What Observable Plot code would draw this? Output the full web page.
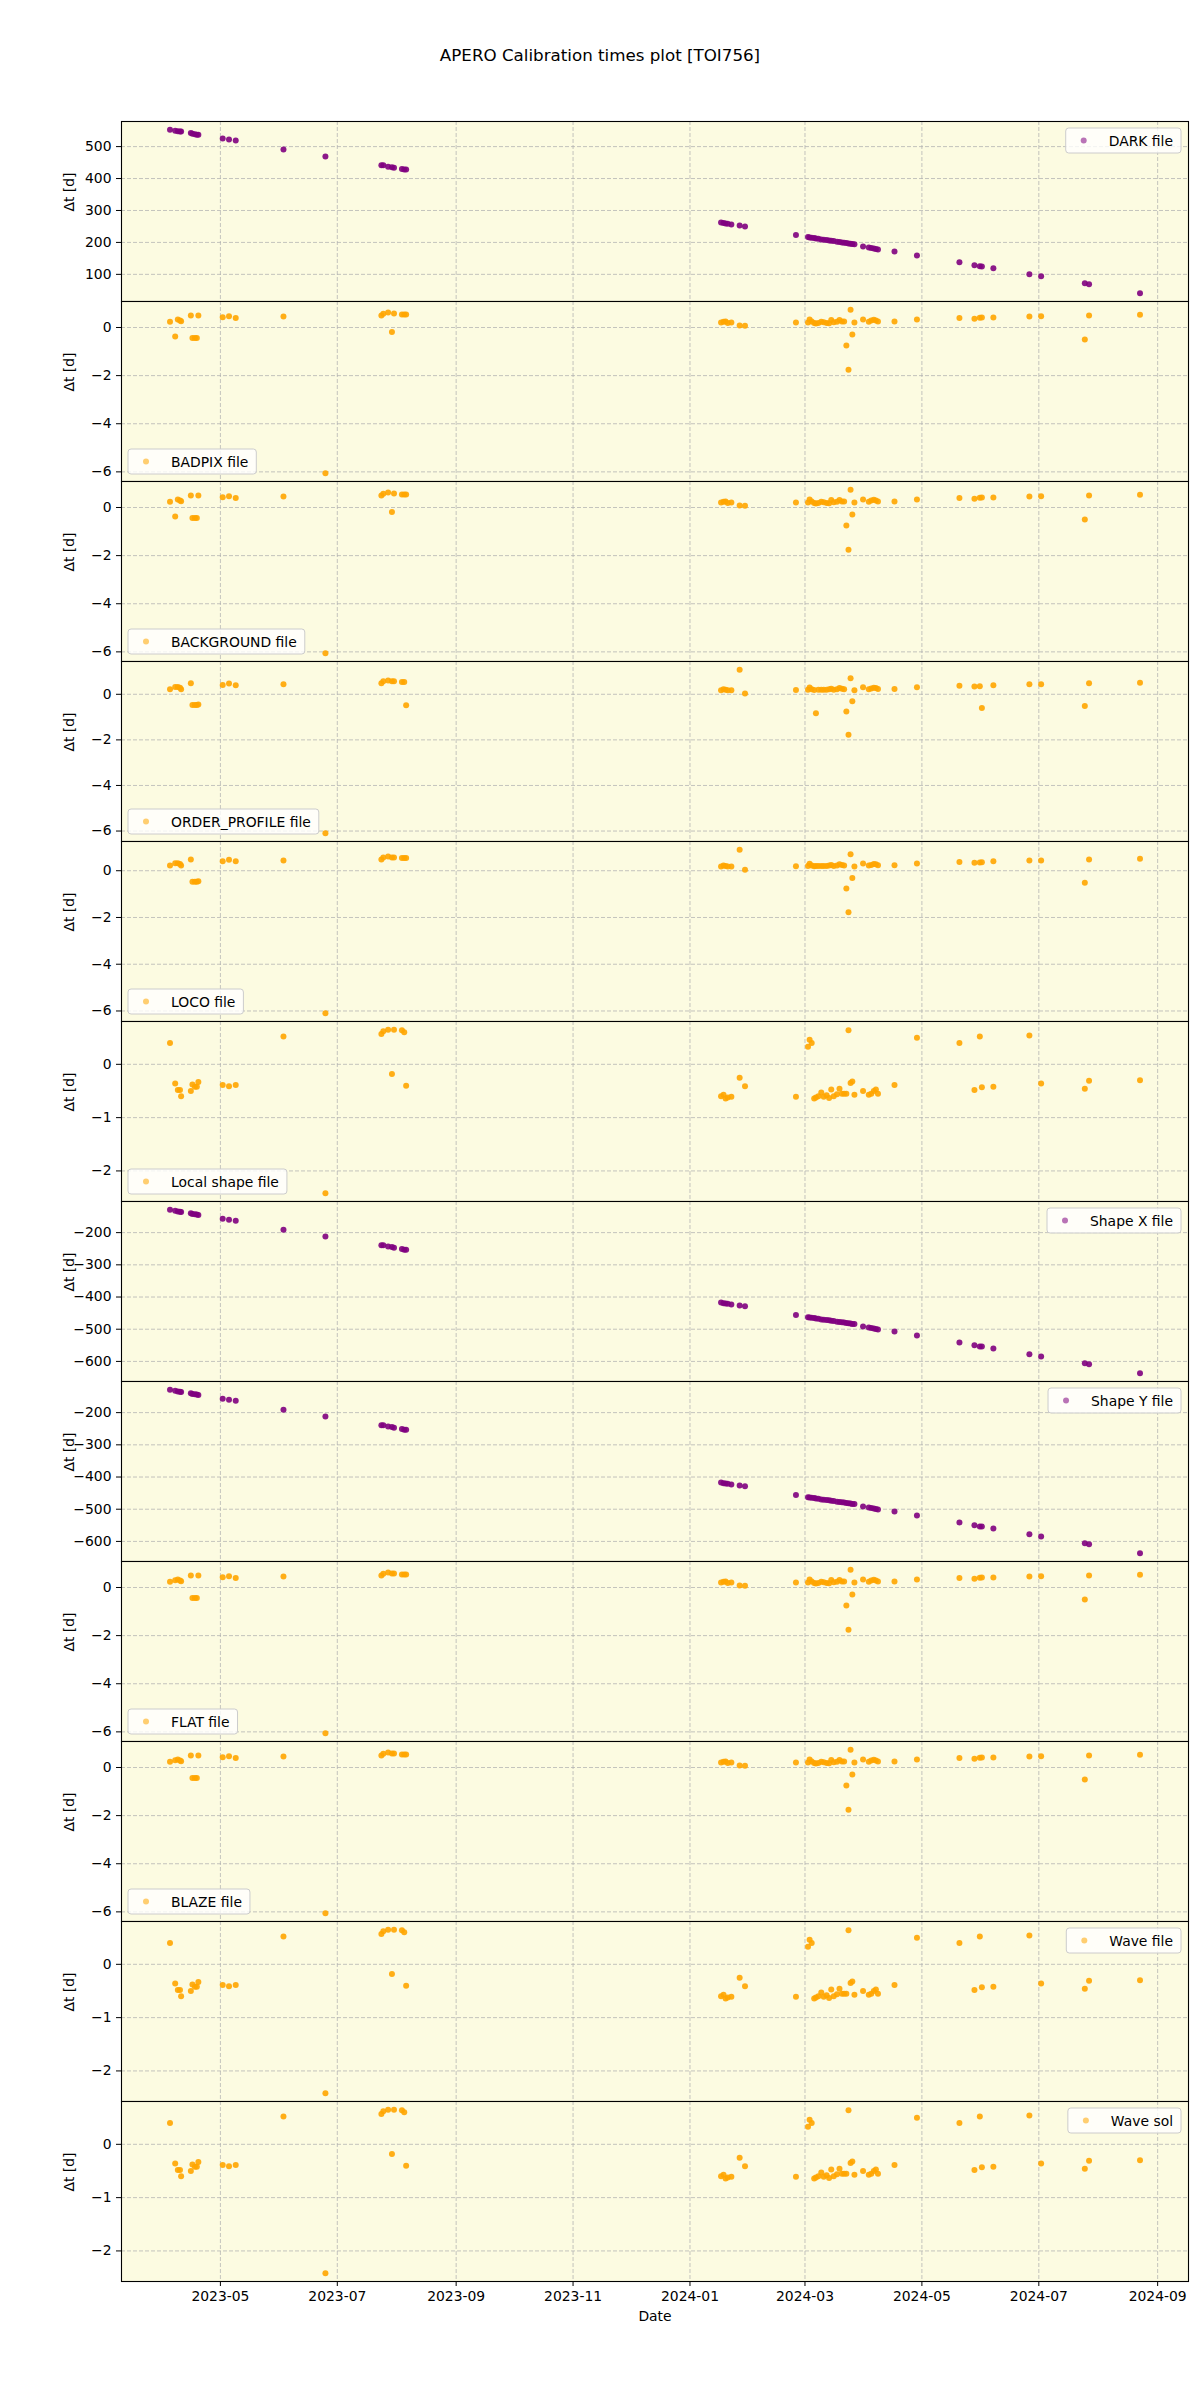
<!DOCTYPE html>
<html><head><meta charset="utf-8">
<script src="https://cdn.jsdelivr.net/npm/d3@7"></script>
<script src="https://cdn.jsdelivr.net/npm/@observablehq/plot@0.6"></script>
<style>
body{margin:0;background:#fff;font-family:"DejaVu Sans",sans-serif;}
#title{height:121px;position:relative;width:1200px}
#title div{position:absolute;top:45px;left:0;width:1200px;text-align:center;font-size:16.7px;line-height:20px;color:#000}
svg{display:block;overflow:visible}
</style></head><body>
<div id="title"><div>APERO Calibration times plot [TOI756]</div></div>
<div id="chart"></div>
<script>
// observation dates (UTC, to the hour)
const obsDates = [
"2023-04-04T17","2023-04-07T10","2023-04-08T19","2023-04-09T22","2023-04-10T12","2023-04-15T14","2023-04-16T10","2023-04-17T17","2023-04-18T17","2023-04-19T12",
"2023-05-02T05","2023-05-05T12","2023-05-09T00","2023-06-02T22","2023-06-24T19","2023-07-24T00","2023-07-25T00","2023-07-27T12","2023-07-29T12","2023-07-30T14",
"2023-08-03T17","2023-08-04T22","2023-08-05T22",
"2024-01-17T05","2024-01-18T12","2024-01-19T14","2024-01-20T17","2024-01-22T14","2024-01-26T22","2024-01-29T17","2024-02-25T07",
"2024-03-02T14","2024-03-03T10","2024-03-04T12","2024-03-05T19","2024-03-06T17","2024-03-08T00","2024-03-09T12","2024-03-10T19","2024-03-12T07","2024-03-13T14",
"2024-03-14T17","2024-03-16T00","2024-03-17T17","2024-03-19T00","2024-03-20T07","2024-03-21T10","2024-03-22T14","2024-03-23T17","2024-03-24T19","2024-03-25T17","2024-03-26T19",
"2024-03-31T07","2024-04-03T07","2024-04-04T14","2024-04-05T22","2024-04-07T00","2024-04-08T02","2024-04-16T17","2024-04-28T10","2024-05-20T14","2024-05-28T10",
"2024-05-31T05","2024-06-01T07","2024-06-07T07","2024-06-26T02","2024-07-02T05","2024-07-25T00","2024-07-27T05","2024-08-22T19"];

const darkFile = [553,550,548,547,547,543,540,539,537,537,525,522,519,491,469,442,442,437,435,434,430,428,428,
262.5,260.4,259.4,258.3,256.3,253.1,250,222.9,
216.7,215.6,214.6,213.5,212.5,211.5,209.4,208.3,207.3,206.3,205.2,204.2,202.1,201.0,200.0,199.0,197.9,196.9,195.8,194.8,194.5,
187.5,184.4,182.3,181.3,179.2,178.1,171.9,159.4,137.5,128.1,125,124.5,118.8,100,93.8,71.9,68.8,40.6];

const badpixFile = [0.24,-0.375,0.33,0.29,0.26,0.5,-0.44,-0.44,-0.44,0.5,0.43,0.47,0.39,0.46,-6.06,0.5,0.57,0.625,-0.19,0.58,0.54,0.54,0.54,
0.21,0.24,0.25,0.19,0.21,0.08,0.07,0.21,
0.21,0.33,0.25,0.19,0.17,0.19,0.24,0.22,0.19,0.18,0.31,0.22,0.24,0.31,0.25,0.25,-0.75,-1.76,0.74,-0.29,0.21,
0.33,0.24,0.29,0.32,0.29,0.25,0.25,0.33,0.39,0.36,0.4,0.42,0.42,0.46,0.47,-0.5,0.5,0.53];

const backgroundFile = [0.24,-0.375,0.33,0.29,0.26,0.5,-0.44,-0.44,-0.44,0.5,0.43,0.47,0.39,0.46,-6.06,0.5,0.57,0.625,-0.19,0.58,0.54,0.54,0.54,
0.21,0.24,0.25,0.19,0.21,0.08,0.07,0.21,
0.21,0.33,0.25,0.19,0.17,0.19,0.24,0.22,0.19,0.18,0.31,0.22,0.24,0.31,0.25,0.25,-0.75,-1.76,0.74,-0.29,0.21,
0.33,0.24,0.29,0.32,0.29,0.25,0.25,0.33,0.39,0.36,0.4,0.42,0.42,0.46,0.47,-0.5,0.5,0.53];

const orderProfileFile = [0.22,0.32,0.32,0.29,0.22,0.48,-0.47,-0.47,-0.47,-0.45,0.41,0.47,0.40,0.44,-6.1,0.48,0.57,0.61,0.57,0.57,0.54,0.54,-0.48,
0.18,0.22,0.2,0.18,0.18,1.08,0.04,0.19,
0.2,0.3,0.22,0.19,-0.83,0.2,0.2,0.2,0.2,0.22,0.24,0.2,0.22,0.28,0.24,0.22,-0.76,-1.78,0.7,-0.31,0.18,
0.31,0.22,0.25,0.29,0.28,0.23,0.23,0.31,0.37,0.34,0.35,-0.6,0.4,0.44,0.44,-0.51,0.48,0.51];

const locoFile = [0.22,0.32,0.32,0.29,0.22,0.48,-0.47,-0.47,-0.47,-0.45,0.41,0.47,0.40,0.44,-6.1,0.48,0.57,0.61,0.57,0.57,0.54,0.54,0.54,
0.18,0.22,0.2,0.18,0.18,0.9,0.04,0.19,
0.2,0.3,0.22,0.19,0.2,0.2,0.2,0.2,0.2,0.22,0.24,0.2,0.22,0.28,0.24,0.22,-0.76,-1.78,0.7,-0.31,0.18,
0.31,0.22,0.25,0.29,0.28,0.23,0.23,0.31,0.37,0.34,0.35,0.36,0.4,0.44,0.44,-0.51,0.48,0.51];

const localShapeFile = [0.40,-0.36,-0.48,-0.48,-0.6,-0.5,-0.38,-0.42,-0.42,-0.33,-0.39,-0.41,-0.39,0.52,-2.42,0.57,0.62,0.65,-0.18,0.65,0.64,0.6,-0.4,
-0.6,-0.57,-0.64,-0.62,-0.61,-0.25,-0.41,-0.61,
0.33,0.46,0.40,-0.64,-0.62,-0.6,-0.53,-0.61,-0.58,-0.63,-0.47,-0.6,-0.56,-0.46,-0.55,-0.55,-0.55,0.64,-0.35,-0.32,-0.57,
-0.5,-0.57,-0.55,-0.5,-0.47,-0.55,-0.39,0.5,0.4,-0.48,0.52,-0.43,-0.42,0.54,-0.36,-0.46,-0.31,-0.3];

const shapeXFile = [-128.7,-132,-134,-135,-136,-140,-142,-143,-144,-145,-157,-160,-163,-191,-212,-239,-239,-243,-245,-247,-251,-253,-253,
-417,-419,-420,-421,-423,-426,-429,-456,
-462.5,-463.5,-464.5,-465.5,-466.5,-467.5,-469.5,-470.5,-471.5,-472.5,-473.5,-474.5,-476.5,-477.5,-478.5,-479.5,-480.5,-481.5,-482.5,-483.5,-484,
-491.5,-494.6,-496.6,-497.7,-499.7,-500.8,-507,-519.4,-541,-550,-553.5,-554,-559.7,-578,-584.5,-606,-609,-637];

const shapeYFile = [-128.7,-132,-134,-135,-136,-140,-142,-143,-144,-145,-157,-160,-163,-191,-212,-239,-239,-243,-245,-247,-251,-253,-253,
-417,-419,-420,-421,-423,-426,-429,-456,
-462.5,-463.5,-464.5,-465.5,-466.5,-467.5,-469.5,-470.5,-471.5,-472.5,-473.5,-474.5,-476.5,-477.5,-478.5,-479.5,-480.5,-481.5,-482.5,-483.5,-484,
-491.5,-494.6,-496.6,-497.7,-499.7,-500.8,-507,-519.4,-541,-550,-553.5,-554,-559.7,-578,-584.5,-606,-609,-637];

const flatFile = [0.24,0.3,0.33,0.29,0.26,0.5,-0.44,-0.44,-0.44,0.5,0.43,0.47,0.39,0.46,-6.06,0.5,0.57,0.625,0.58,0.58,0.54,0.54,0.54,
0.21,0.24,0.25,0.19,0.21,0.08,0.07,0.21,
0.21,0.33,0.25,0.19,0.17,0.19,0.24,0.22,0.19,0.18,0.31,0.22,0.24,0.31,0.25,0.25,-0.75,-1.76,0.74,-0.29,0.21,
0.33,0.24,0.29,0.32,0.29,0.25,0.25,0.33,0.39,0.36,0.4,0.42,0.42,0.46,0.47,-0.5,0.5,0.53];

const blazeFile = [0.24,0.3,0.33,0.29,0.26,0.5,-0.44,-0.44,-0.44,0.5,0.43,0.47,0.39,0.46,-6.06,0.5,0.57,0.625,0.58,0.58,0.54,0.54,0.54,
0.21,0.24,0.25,0.19,0.21,0.08,0.07,0.21,
0.21,0.33,0.25,0.19,0.17,0.19,0.24,0.22,0.19,0.18,0.31,0.22,0.24,0.31,0.25,0.25,-0.75,-1.76,0.74,-0.29,0.21,
0.33,0.24,0.29,0.32,0.29,0.25,0.25,0.33,0.39,0.36,0.4,0.42,0.42,0.46,0.47,-0.5,0.5,0.53];

const waveFile = [0.40,-0.36,-0.48,-0.48,-0.6,-0.5,-0.38,-0.42,-0.42,-0.33,-0.39,-0.41,-0.39,0.52,-2.42,0.57,0.62,0.65,-0.18,0.65,0.64,0.6,-0.4,
-0.6,-0.57,-0.64,-0.62,-0.61,-0.25,-0.41,-0.61,
0.33,0.46,0.40,-0.64,-0.62,-0.6,-0.53,-0.61,-0.58,-0.63,-0.47,-0.6,-0.56,-0.46,-0.55,-0.55,-0.55,0.64,-0.35,-0.32,-0.57,
-0.5,-0.57,-0.55,-0.5,-0.47,-0.55,-0.39,0.5,0.4,-0.48,0.52,-0.43,-0.42,0.54,-0.36,-0.46,-0.31,-0.3];

const waveSol = [0.40,-0.36,-0.48,-0.48,-0.6,-0.5,-0.38,-0.42,-0.42,-0.33,-0.39,-0.41,-0.39,0.52,-2.42,0.57,0.62,0.65,-0.18,0.65,0.64,0.6,-0.4,
-0.6,-0.57,-0.64,-0.62,-0.61,-0.25,-0.41,-0.61,
0.33,0.46,0.40,-0.64,-0.62,-0.6,-0.53,-0.61,-0.58,-0.63,-0.47,-0.6,-0.56,-0.46,-0.55,-0.55,-0.55,0.64,-0.35,-0.32,-0.57,
-0.5,-0.57,-0.55,-0.5,-0.47,-0.55,-0.39,0.5,0.4,-0.48,0.52,-0.43,-0.42,0.54,-0.36,-0.46,-0.31,-0.3];

// tick values
const xTickLabels = ["2023-05","2023-07","2023-09","2023-11","2024-01","2024-03","2024-05","2024-07","2024-09"];
const darkTicks = [100,200,300,400,500];
const smallTicks = [-6,-4,-2,0];
const shapeTicks = [-2,-1,0];
const xyTicks = [-600,-500,-400,-300,-200];

const panels = [
  {label:"DARK file", values:darkFile, color:"#800080", legend:"ur", ticks:darkTicks},
  {label:"BADPIX file", values:badpixFile, color:"#FFA500", legend:"ll", ticks:smallTicks},
  {label:"BACKGROUND file", values:backgroundFile, color:"#FFA500", legend:"ll", ticks:smallTicks},
  {label:"ORDER_PROFILE file", values:orderProfileFile, color:"#FFA500", legend:"ll", ticks:smallTicks},
  {label:"LOCO file", values:locoFile, color:"#FFA500", legend:"ll", ticks:smallTicks},
  {label:"Local shape file", values:localShapeFile, color:"#FFA500", legend:"ll", ticks:shapeTicks},
  {label:"Shape X file", values:shapeXFile, color:"#800080", legend:"ur", ticks:xyTicks},
  {label:"Shape Y file", values:shapeYFile, color:"#800080", legend:"ur", ticks:xyTicks},
  {label:"FLAT file", values:flatFile, color:"#FFA500", legend:"ll", ticks:smallTicks},
  {label:"BLAZE file", values:blazeFile, color:"#FFA500", legend:"ll", ticks:smallTicks},
  {label:"Wave file", values:waveFile, color:"#FFA500", legend:"ur", ticks:shapeTicks},
  {label:"Wave sol", values:waveSol, color:"#FFA500", legend:"ur", ticks:shapeTicks}
];

const parse = d3.utcParse("%Y-%m-%dT%H");
const dates = obsDates.map(parse);
const xTicks = xTickLabels.map(d3.utcParse("%Y-%m"));
const [dMin, dMax] = d3.extent(dates);
const span = dMax - dMin;
const xDomain = [new Date(+dMin - 0.05*span), new Date(+dMax + 0.05*span)];

const W = 1200, ML = 121, MR = 12, PH = 180, BOTTOM = 60;
const bg = "#fcfbe1";
const gridStyle = {stroke:"#b0b0b0", strokeOpacity:0.75, strokeDasharray:"4,2", strokeWidth:1};
const chart = document.getElementById("chart");
const fmtY = d3.format("d");

panels.forEach((p, i) => {
  const last = i === panels.length - 1;
  const data = dates.map((d, j) => ({date: d, v: p.values[j]}));
  const [lo, hi] = d3.extent(p.values);
  const pad = (hi - lo) * 0.05;
  const marks = [
    Plot.frame({fill: bg}),
    Plot.gridX(xTicks, {...gridStyle}),
    Plot.gridY(p.ticks, {...gridStyle}),
    Plot.axisY(p.ticks, {tickSize: 5, tickPadding: 5, tickFormat: fmtY, label: null, fontSize: 13.9}),
    Plot.dot(data, {x: "date", y: "v", r: 3, fill: p.color, fillOpacity: 0.9, stroke: "none"}),
    Plot.frame({stroke: "#000", strokeWidth: 1.1}),
    Plot.text(["Δt [d]"], {frameAnchor: "left", dx: -52, rotate: -90, fontSize: 13.9, fill: "#000"})
  ];
  if (last) {
    marks.push(Plot.axisX(xTicks, {tickSize: 5, tickPadding: 5, tickFormat: d3.utcFormat("%Y-%m"), label: null, fontSize: 13.9}));
    marks.push(Plot.text(["Date"], {frameAnchor: "bottom", dy: 35, lineAnchor: "middle", fontSize: 13.9, fill: "#000"}));
  } else {
    marks.push(Plot.axisX(xTicks, {tickSize: 0, tickFormat: () => "", label: null}));
  }
  const svg = Plot.plot({
    width: W, height: PH + (last ? BOTTOM : 0),
    marginLeft: ML, marginRight: MR, marginTop: 0, marginBottom: last ? BOTTOM : 0,
    style: {fontFamily: "DejaVu Sans, sans-serif", fontSize: "13.9px", background: "transparent", overflow: "visible", color: "#000"},
    x: {type: "utc", domain: xDomain},
    y: {domain: [lo - pad, hi + pad]},
    marks
  });
  chart.appendChild(svg);

  // legend box (matplotlib-like)
  const s = d3.select(svg);
  const g = s.append("g").attr("font-family", "DejaVu Sans, sans-serif").attr("font-size", 13.9).attr("text-anchor", "start");
  const rect = g.append("rect").attr("rx", 3).attr("fill", "#fff").attr("fill-opacity", 0.8)
    .attr("stroke", "#cccccc").attr("stroke-width", 1);
  const circ = g.append("circle").attr("r", 3).attr("fill", p.color).attr("fill-opacity", 0.55);
  const txt = g.append("text").text(p.label).attr("text-anchor", "start").attr("dominant-baseline", "central").attr("fill", "#000");
  const tw = txt.node().getComputedTextLength();
  const bw = 43 + tw + 8, bh = 25;
  const bx = p.legend === "ur" ? (W - MR - 7 - bw) : (ML + 7);
  const by = p.legend === "ur" ? 7 : (PH - 7 - bh);
  rect.attr("x", bx).attr("y", by).attr("width", bw).attr("height", bh);
  circ.attr("cx", bx + 18).attr("cy", by + bh / 2);
  txt.attr("x", bx + 43).attr("y", by + bh / 2);
});
</script>
</body></html>
